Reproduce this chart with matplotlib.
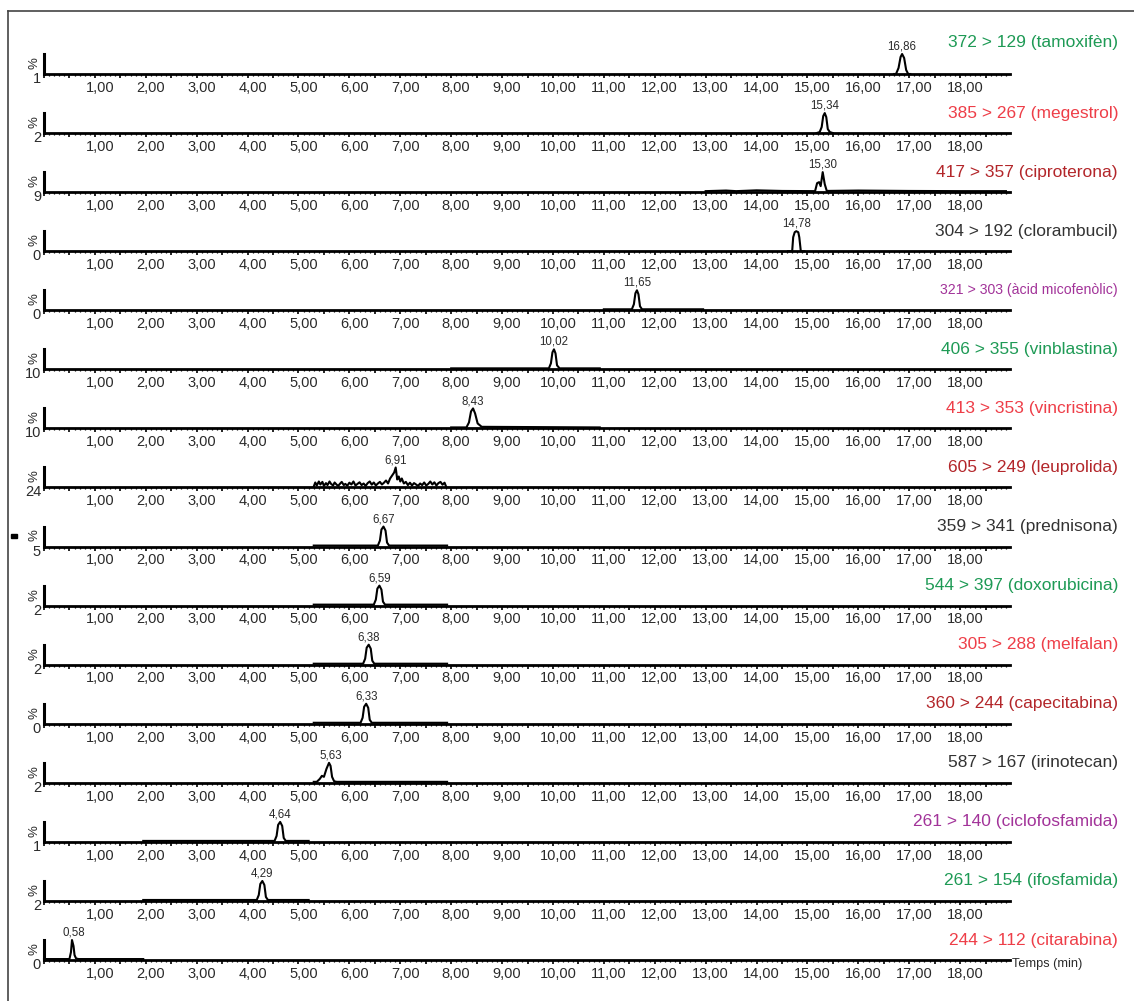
import matplotlib
matplotlib.use("Agg")
import matplotlib.pyplot as plt
from matplotlib.ticker import MultipleLocator
from matplotlib.transforms import ScaledTranslation

plt.rcParams['font.family'] = ['Liberation Sans', 'DejaVu Sans']

# ---------------- data ----------------
transitions = ["372 > 129 (tamoxifèn)", "385 > 267 (megestrol)", "417 > 357 (ciproterona)",
               "304 > 192 (clorambucil)", "321 > 303 (àcid micofenòlic)", "406 > 355 (vinblastina)",
               "413 > 353 (vincristina)", "605 > 249 (leuprolida)", "359 > 341 (prednisona)",
               "544 > 397 (doxorubicina)", "305 > 288 (melfalan)", "360 > 244 (capecitabina)",
               "587 > 167 (irinotecan)", "261 > 140 (ciclofosfamida)", "261 > 154 (ifosfamida)",
               "244 > 112 (citarabina)"]
label_colors = ["#1e9a55", "#ee3e48", "#b3262a", "#333333", "#a23399", "#1e9a55", "#ee3e48",
                "#b3262a", "#333333", "#1e9a55", "#ee3e48", "#b3262a", "#333333", "#a23399",
                "#1e9a55", "#ee3e48"]
scale_labels = ["1", "2", "9", "0", "0", "10", "10", "24", "5", "2", "2", "0", "2", "1", "2", "0"]
peak_rt = [16.86, 15.34, 15.30, 14.78, 11.65, 10.02, 8.43, 6.91, 6.67, 6.59, 6.38, 6.33,
           5.63, 4.64, 4.29, 0.58]
peak_rt_text = ["16,86", "15,34", "15,30", "14,78", "11,65", "10,02", "8,43", "6,91", "6,67",
                "6,59", "6,38", "6,33", "5,63", "4,64", "4,29", "0,58"]

# acquisition windows (min) and trace points (time, % intensity)
win_start = [16.70, 15.18, 13.00, 14.62, 11.00, 8.00, 8.00, 5.30, 5.30, 5.30, 5.30, 5.30, 5.30, 1.95, 1.95, 0.00]
win_end   = [17.02, 15.50, 18.90, 14.94, 12.95, 10.92, 10.92, 7.90, 7.92, 7.92, 7.92, 7.92, 7.92, 5.20, 5.20, 1.95]
base_level = [0, 0, 5, 0, 5, 5, 5, 5, 5, 5, 5, 5, 5, 5, 5, 5]

trace_t = [
    [16.74, 16.79, 16.83, 16.86, 16.90, 16.94, 16.98],
    [15.24, 15.28, 15.31, 15.34, 15.37, 15.40, 15.44],
    [13.40, 13.60, 14.00, 14.50, 15.15, 15.19, 15.23, 15.26, 15.30, 15.34, 15.38, 16.00, 17.00, 18.00],
    [14.70, 14.72, 14.75, 14.78, 14.82, 14.84, 14.87],
    [11.55, 11.59, 11.62, 11.65, 11.68, 11.71, 11.75],
    [9.92, 9.96, 9.99, 10.02, 10.05, 10.08, 10.13],
    [8.30, 8.35, 8.39, 8.43, 8.47, 8.52, 8.60],
    [5.33, 5.36, 5.40, 5.43, 5.47, 5.50, 5.54, 5.57, 5.61, 5.64, 5.68, 5.71, 5.75, 5.78, 5.82,
     5.85, 5.89, 5.92, 5.96, 6.00, 6.04, 6.08, 6.12, 6.16, 6.20, 6.24, 6.28, 6.32, 6.36, 6.40,
     6.44, 6.48, 6.52, 6.56, 6.60, 6.64, 6.68, 6.72, 6.76, 6.80, 6.84, 6.88, 6.91, 6.94, 6.97,
     7.00, 7.03, 7.07, 7.11, 7.15, 7.19, 7.23, 7.27, 7.31, 7.35, 7.39, 7.43, 7.47, 7.51, 7.55,
     7.59, 7.63, 7.67, 7.71, 7.75, 7.79, 7.83, 7.87],
    [6.56, 6.60, 6.63, 6.67, 6.71, 6.74, 6.78],
    [6.48, 6.52, 6.55, 6.59, 6.63, 6.66, 6.70],
    [6.27, 6.31, 6.34, 6.38, 6.42, 6.45, 6.49],
    [6.22, 6.26, 6.29, 6.33, 6.37, 6.40, 6.44],
    [5.36, 5.42, 5.46, 5.50, 5.55, 5.60, 5.63, 5.66, 5.70, 5.75],
    [4.53, 4.57, 4.60, 4.64, 4.68, 4.71, 4.75],
    [4.18, 4.22, 4.25, 4.29, 4.33, 4.36, 4.40],
    [0.50, 0.53, 0.55, 0.58, 0.60, 0.63, 0.68],
]
trace_y = [
    [0, 30, 85, 100, 80, 20, 0],
    [5, 30, 85, 100, 80, 20, 5],
    [8, 5, 9, 6, 5, 45, 50, 30, 100, 40, 6, 8, 6, 5],
    [0, 70, 95, 100, 95, 70, 0],
    [5, 30, 85, 100, 80, 20, 5],
    [5, 30, 85, 100, 80, 20, 5],
    [5, 30, 85, 100, 75, 25, 8],
    [25, 10, 30, 15, 28, 8, 22, 12, 30, 18, 10, 25, 14, 8, 20, 28, 12, 18, 9, 24, 15, 30, 10,
     18, 26, 12, 20, 8, 22, 30, 14, 25, 10, 20, 28, 15, 24, 35, 20, 45, 60, 75, 100, 40, 55,
     30, 45, 20, 28, 12, 24, 10, 22, 15, 8, 20, 12, 25, 10, 18, 30, 15, 26, 10, 22, 28, 14, 24],
    [5, 30, 85, 100, 80, 20, 5],
    [5, 30, 85, 100, 80, 20, 5],
    [5, 30, 85, 100, 80, 20, 5],
    [5, 30, 85, 100, 80, 20, 5],
    [5, 20, 35, 30, 70, 100, 85, 30, 8, 5],
    [5, 30, 85, 100, 80, 20, 5],
    [5, 30, 85, 100, 80, 20, 5],
    [5, 40, 100, 70, 25, 8, 5],
]

tick_pos = list(range(1, 19))
tick_text = ["%d,00" % v for v in tick_pos]

# ---------------- layout ----------------
W, H = 1134, 1001
fig = plt.figure(figsize=(W / 100, H / 100), dpi=100)
fig.patch.set_facecolor("white")

# outer frame (top and left edges visible)
fig.add_artist(plt.Line2D([8 / W, 1.0], [1 - 11 / H, 1 - 11 / H], color="#444444", lw=1.2,
                          transform=fig.transFigure))
fig.add_artist(plt.Line2D([8 / W, 8 / W], [0, 1 - 11 / H], color="#444444", lw=1.2,
                          transform=fig.transFigure))
fig.add_artist(plt.Rectangle((11 / W, 1 - 538 / H), 6 / W, 4 / H, color="black",
                             transform=fig.transFigure))

x_left, x_right = 44, 1010
panel_h = 20
n = len(transitions)
label_dx = ScaledTranslation(5 / 100, 0, fig.dpi_scale_trans)
txt_col = "#2a2a2a"

for i in range(n):
    base_px = 74 + 59.07 * i
    ax = fig.add_axes([x_left / W, 1 - base_px / H, (x_right - x_left) / W, panel_h / H])
    ax.set_xlim(0, 18.98)
    ax.set_ylim(0, 100)
    ax.patch.set_alpha(0)
    for s in ("top", "right"):
        ax.spines[s].set_visible(False)
    ax.spines["bottom"].set_linewidth(2.0)
    ax.spines["left"].set_linewidth(2.2)
    ax.set_yticks([])
    ax.xaxis.set_major_locator(MultipleLocator(0.5))
    ax.xaxis.set_minor_locator(MultipleLocator(0.1))
    ax.tick_params(axis="x", which="major", length=3, width=1.2, direction="out",
                   labelbottom=False)
    ax.tick_params(axis="x", which="minor", length=1.6, width=0.9, direction="out")
    # integer tick labels
    for tp, tt in zip(tick_pos, tick_text):
        ax.text(tp, -34, tt, transform=ax.transData + label_dx, ha="center", va="top",
                fontsize=10.5, color=txt_col, clip_on=False)

    # trace
    ts = [win_start[i]] + trace_t[i] + [win_end[i]]
    ys = [base_level[i]] + trace_y[i] + [base_level[i]]
    ax.plot(ts, ys, color="black", lw=1.5, clip_on=False, solid_joinstyle="round")

    # peak label
    ax.annotate(peak_rt_text[i], (peak_rt[i], 100), xytext=(0, 1.0), textcoords="offset points",
                ha="center", va="bottom", fontsize=8.3, color=txt_col)

    # y-axis annotations
    fig.text(35 / W, 1 - (base_px - 11) / H, "%", rotation=90, ha="center", va="center",
             fontsize=9.5, color=txt_col)
    fig.text(41 / W, 1 - (base_px + 5) / H, scale_labels[i], ha="right", va="center",
             fontsize=10.5, color=txt_col)

    # transition / compound label
    ly = base_px - (32 if i == 0 else 20)
    fs = 10.2 if i == 4 else 12.5
    fig.text(1118 / W, 1 - ly / H, transitions[i], ha="right", va="center", fontsize=fs,
             color=label_colors[i])

fig.text(1012 / W, 1 - 964 / H, "Temps (min)", ha="left", va="center", fontsize=9.2,
         color=txt_col)

fig.savefig("out.png", dpi=100)
